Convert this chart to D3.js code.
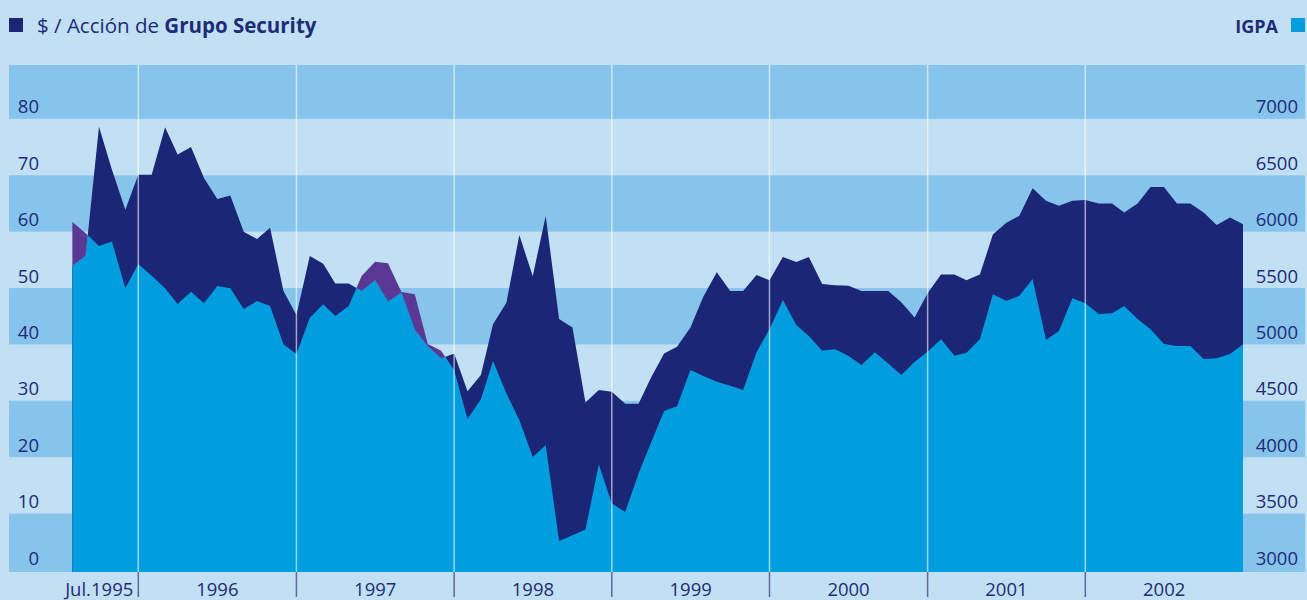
<!DOCTYPE html>
<html>
<head>
<meta charset="utf-8">
<script src="https://cdn.jsdelivr.net/npm/d3@7/dist/d3.min.js"></script>
<style>
  body { margin: 0; background: #c1e0f4; }
  svg { display: block; font-family: 'Open Sans', sans-serif; }
</style>
</head>
<body>
<div id="chart"></div>
<script>
// monthly closes, Jul 1995 .. Dec 2002
const accion = [
  53.9, 55.7, 78.6, 71.0, 63.9, 70.1,
  70.1, 78.5, 73.7, 75.0, 69.5, 65.8, 66.4, 60.0, 58.7, 60.7, 49.5, 45.2,
  55.7, 54.3, 50.8, 50.8, 49.5, 51.4, 47.6, 49.2, 42.6, 39.7, 37.5, 38.4,
  31.7, 34.6, 43.6, 47.4, 59.4, 52.1, 62.8, 44.5, 43.0, 29.7, 31.9, 31.6,
  29.5, 29.5, 34.0, 38.4, 39.6, 43.0, 48.5, 52.8, 49.5, 49.5, 52.3, 51.4,
  55.5, 54.6, 55.5, 50.7, 50.5, 50.4, 49.5, 49.5, 49.5, 47.5, 44.8, 49.1,
  52.4, 52.4, 51.4, 52.4, 59.5, 61.6, 62.8, 67.7, 65.5, 64.6, 65.5, 65.6,
  65.0, 65.0, 63.4, 65.0, 67.9, 67.9, 65.0, 65.0, 63.4, 61.2, 62.5, 61.3
];

const igpa = [
  6089, 5986, 5873, 5912, 5498, 5714,
  5610, 5498, 5359, 5468, 5365, 5518, 5498, 5314, 5385, 5341, 5001, 4915,
  5237, 5356, 5252, 5341, 5607, 5734, 5720, 5465, 5445, 5004, 4944, 4773,
  4338, 4515, 4853, 4566, 4329, 4001, 4107, 3258, 3308, 3359, 3936, 3590,
  3515, 3856, 4122, 4409, 4453, 4773, 4720, 4669, 4634, 4595, 4930, 5137,
  5394, 5172, 5075, 4944, 4957, 4897, 4817, 4930, 4832, 4729, 4847, 4935,
  5045, 4900, 4926, 5045, 5445, 5388, 5430, 5581, 5039, 5119, 5409, 5365,
  5270, 5276, 5341, 5226, 5134, 5004, 4986, 4986, 4871, 4877, 4915, 5001
];

const leftTicks = [0, 10, 20, 30, 40, 50, 60, 70, 80];
const rightTicks = [3000, 3500, 4000, 4500, 5000, 5500, 6000, 6500, 7000];
const yearLabels = ['Jul.1995', '1996', '1997', '1998', '1999', '2000', '2001', '2002'];

const colors = {
  bg: '#c1e0f4',
  band: '#86c4eb',
  accion: '#1c2676',
  igpa: '#009ede',
  igpaAbove: '#5a3894',
  text: '#1f2a78',
  tick: '#5a68a0'
};

const width = 1307;
const height = 600;
const plot = { left: 72.2, right: 1243, top: 65, bottom: 572 };

const start = new Date(Date.UTC(1995, 6, 1));
const data = accion.map((a, i) => ({
  date: d3.utcMonth.offset(start, i),
  accion: a,
  igpa: igpa[i]
}));

const svg = d3
  .select('#chart')
  .append('svg')
  .attr('width', width)
  .attr('height', height);

svg.append('rect').attr('width', width).attr('height', height).attr('fill', colors.bg);

const x = d3
  .scaleUtc()
  .domain(d3.extent(data, (d) => d.date))
  .range([plot.left, plot.right]);

const yLeft = d3.scaleLinear().domain([0, 90]).range([570, 62.5]);
const yRight = d3.scaleLinear().domain([3000, 7500]).range([570, 62.5]);

// alternating horizontal bands, every other 10 units
svg
  .append('g')
  .selectAll('rect')
  .data(d3.range(0, 90, 20))
  .join('rect')
  .attr('x', 9)
  .attr('width', 1305 - 9)
  .attr('y', (v) => Math.max(plot.top, yLeft(v + 10)))
  .attr('height', (v) => (v === 0 ? plot.bottom : yLeft(v)) - Math.max(plot.top, yLeft(v + 10)))
  .attr('fill', colors.band);

// difference chart: clip regions above / below the accion line
const defs = svg.append('defs');
defs
  .append('clipPath')
  .attr('id', 'above-accion')
  .append('path')
  .attr(
    'd',
    d3.area().x((d) => x(d.date)).y0(0).y1((d) => yLeft(d.accion))(data)
  );
defs
  .append('clipPath')
  .attr('id', 'below-accion')
  .append('path')
  .attr(
    'd',
    d3.area().x((d) => x(d.date)).y0(plot.bottom).y1((d) => yLeft(d.accion))(data)
  );

const areaAccion = d3
  .area()
  .x((d) => x(d.date))
  .y0(plot.bottom)
  .y1((d) => yLeft(d.accion));

const areaIgpa = d3
  .area()
  .x((d) => x(d.date))
  .y0(plot.bottom)
  .y1((d) => yRight(d.igpa));

const areas = svg.append('g').attr('class', 'areas');

areas.append('path').datum(data).attr('d', areaAccion).attr('fill', colors.accion);

areas
  .append('path')
  .datum(data)
  .attr('d', areaIgpa)
  .attr('clip-path', 'url(#above-accion)')
  .attr('fill', colors.igpaAbove);

areas
  .append('path')
  .datum(data)
  .attr('d', areaIgpa)
  .attr('clip-path', 'url(#below-accion)')
  .attr('fill', colors.igpa);

// year separators (December of each year, not the last point)
const decembers = data.filter((d) => d.date.getUTCMonth() === 11);
const separators = decembers.slice(0, -1);

svg
  .append('g')
  .selectAll('line')
  .data(separators)
  .join('line')
  .attr('x1', (d) => x(d.date))
  .attr('x2', (d) => x(d.date))
  .attr('y1', plot.top)
  .attr('y2', plot.bottom)
  .attr('stroke', '#ffffff')
  .attr('stroke-opacity', 0.6)
  .attr('stroke-width', 1.5);

svg
  .append('g')
  .selectAll('line')
  .data(separators)
  .join('line')
  .attr('x1', (d) => x(d.date))
  .attr('x2', (d) => x(d.date))
  .attr('y1', plot.bottom)
  .attr('y2', 597)
  .attr('stroke', colors.tick)
  .attr('stroke-width', 1.5);

// year labels
const yearBounds = [x(data[0].date)].concat(decembers.map((d) => x(d.date)));
svg
  .append('g')
  .selectAll('text')
  .data(yearLabels)
  .join('text')
  .attr('x', (d, i) => (i === 0 ? yearBounds[1] - 5 : (yearBounds[i] + yearBounds[i + 1]) / 2))
  .attr('y', 596)
  .attr('text-anchor', (d, i) => (i === 0 ? 'end' : 'middle'))
  .attr('fill', colors.text)
  .style('font-size', '18.5px')
  .text((d) => d);

// axis labels
svg
  .append('g')
  .selectAll('text')
  .data(leftTicks)
  .join('text')
  .attr('x', 39)
  .attr('y', (v) => yLeft(v) - 5.5)
  .attr('text-anchor', 'end')
  .attr('fill', colors.text)
  .style('font-size', '18.5px')
  .text((v) => v);

svg
  .append('g')
  .selectAll('text')
  .data(rightTicks)
  .join('text')
  .attr('x', 1298)
  .attr('y', (v) => yRight(v) - 5.5)
  .attr('text-anchor', 'end')
  .attr('fill', colors.text)
  .style('font-size', '18.5px')
  .text((v) => v);

// legend
svg.append('rect').attr('x', 9).attr('y', 18).attr('width', 14).attr('height', 14).attr('fill', colors.accion);
const title = svg
  .append('text')
  .attr('x', 37)
  .attr('y', 32.5)
  .attr('fill', colors.text)
  .style('font-size', '20.5px');
title.append('tspan').text('$ / Acción de ');
title.append('tspan').style('font-weight', 'bold').text('Grupo Security');

svg
  .append('text')
  .attr('x', 1278)
  .attr('y', 32.5)
  .attr('text-anchor', 'end')
  .attr('fill', colors.text)
  .style('font-size', '18px')
  .style('font-weight', 'bold')
  .text('IGPA');
svg.append('rect').attr('x', 1291).attr('y', 18).attr('width', 14).attr('height', 14).attr('fill', colors.igpa);
</script>
</body>
</html>
